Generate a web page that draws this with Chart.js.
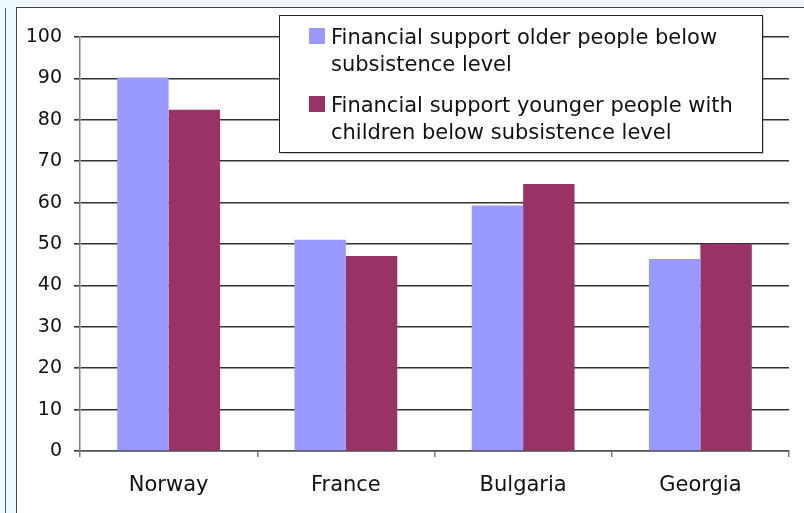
<!DOCTYPE html>
<html>
<head>
<meta charset="utf-8">
<script src="https://cdn.jsdelivr.net/npm/chart.js@4.4.1/dist/chart.umd.min.js"></script>
<style>
  html, body { margin: 0; padding: 0; }
  body { width: 804px; height: 513px; background: #eefaff; position: relative; overflow: hidden; }
  #edge { position: absolute; left: 5px; top: 8px; width: 1px; height: 505px; background: #555; }
  #frame { position: absolute; left: 16px; top: 7px; width: 788px; height: 506px;
           border-left: 1px solid #444; border-top: 1px solid #444; background: #fff; }
  #chart-wrap { position: absolute; left: 0; top: 0; width: 787px; height: 505px; }
</style>
</head>
<body>
<div id="edge"></div>
<div id="frame">
  <div id="chart-wrap"><canvas id="graph-1"></canvas></div>
</div>
<script>
const countries = ["Norway", "France", "Bulgaria", "Georgia"];
const olderPeople = [90.2, 51.0, 59.3, 46.4];
const youngerWithChildren = [82.4, 47.1, 64.5, 50.0];
const seriesLabels = [
  ["Financial support older people below", "subsistence level"],
  ["Financial support younger people with", "children below subsistence level"],
];
const yTicks = [0, 10, 20, 30, 40, 50, 60, 70, 80, 90, 100];

// legend drawn as a framed box over the plot, like the original
const boxLegend = {
  id: "boxLegend",
  afterDraw(chart) {
    const c = chart.ctx;
    const x = 262, y = 7, w = 483, h = 137;
    c.save();
    c.fillStyle = "rgba(0,0,0,0.18)";
    c.fillRect(x + 2, y + 2, w, h);
    c.fillStyle = "#fff";
    c.fillRect(x, y, w, h);
    c.strokeStyle = "#222";
    c.lineWidth = 1;
    c.strokeRect(x + 0.5, y + 0.5, w, h);
    c.font = "21px 'DejaVu Sans', Verdana, sans-serif";
    c.textBaseline = "alphabetic";
    chart.data.datasets.forEach((ds, i) => {
      const top = y + 13 + i * 68;
      c.fillStyle = ds.backgroundColor;
      c.fillRect(x + 30, top, 16, 16);
      c.fillStyle = "#111";
      ds.label.forEach((line, j) => {
        c.fillText(line, x + 52, top + 16 + j * 27);
      });
    });
    c.restore();
  },
};

const ctx = document.getElementById("graph-1").getContext("2d");

const supportChart = new Chart(ctx, {
  type: "bar",
  data: {
    labels: countries,
    datasets: [
      {
        label: seriesLabels[0],
        data: olderPeople,
        backgroundColor: "#9999ff",
        borderWidth: 0,
        categoryPercentage: 0.58,
        barPercentage: 1,
      },
      {
        label: seriesLabels[1],
        data: youngerWithChildren,
        backgroundColor: "#993366",
        borderWidth: 0,
        categoryPercentage: 0.58,
        barPercentage: 1,
      },
    ],
  },
  options: {
    responsive: true,
    maintainAspectRatio: false,
    animation: false,
    layout: { padding: { top: 29, right: 15, left: 0, bottom: 0 } },
    plugins: {
      legend: { display: false },
      tooltip: { enabled: false },
    },
    scales: {
      x: {
        afterFit(scale) { scale.height = 62; },
        grid: {
          drawOnChartArea: false,
          drawTicks: true,
          tickLength: 6,
          color: "#808080",
          lineWidth: 1.5,
        },
        border: { color: "#555", width: 1.5 },
        ticks: {
          color: "#111",
          padding: 16,
          font: { family: "'DejaVu Sans', Verdana, sans-serif", size: 21 },
        },
      },
      y: {
        min: 0,
        max: 100,
        afterFit(scale) { scale.width = 63; },
        afterBuildTicks(scale) { scale.ticks = yTicks.map((v) => ({ value: v })); },
        grid: {
          color: "#333",
          lineWidth: 1.6,
          tickLength: 6,
        },
        border: { color: "#808080", width: 1.5 },
        ticks: {
          color: "#111",
          padding: 12,
          font: { family: "'DejaVu Sans', Verdana, sans-serif", size: 19 },
        },
      },
    },
  },
  plugins: [boxLegend],
});
</script>
</body>
</html>
